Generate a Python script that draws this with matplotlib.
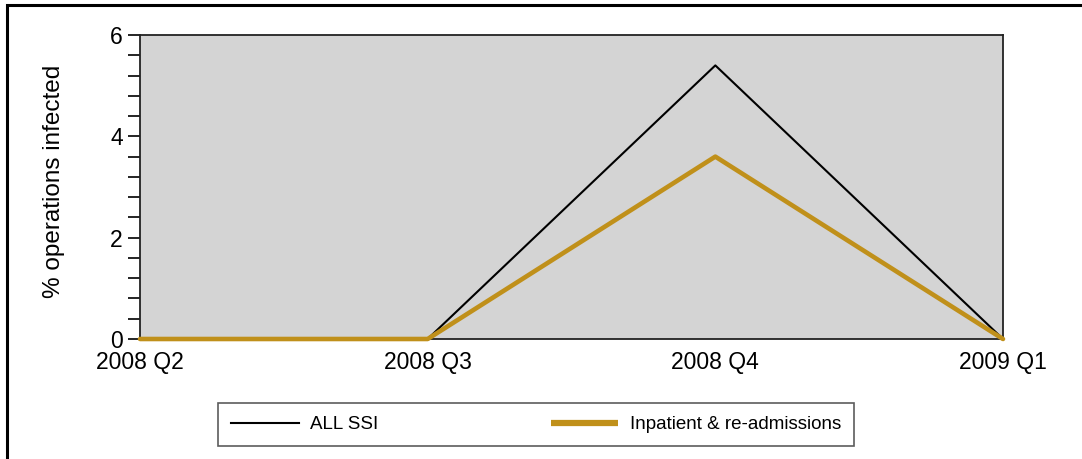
import matplotlib
matplotlib.use("Agg")
import matplotlib.pyplot as plt
from matplotlib.ticker import MultipleLocator
from matplotlib.patches import Rectangle

plt.rcParams['font.family'] = ['Liberation Sans', 'DejaVu Sans']

quarters = ["2008 Q2", "2008 Q3", "2008 Q4", "2009 Q1"]
all_ssi = [0.0, 0.0, 5.4, 0.0]
inpatient = [0.0, 0.0, 3.6, 0.0]
series_labels = ["ALL SSI", "Inpatient & re-admissions"]

W, H = 1082, 459
fig = plt.figure(figsize=(W / 100, H / 100), dpi=100)
ax = fig.add_axes([140 / W, 1 - 339 / H, (1003 - 140) / W, (339 - 35) / H])
ax.set_facecolor('#d4d4d4')

x = list(range(len(quarters)))
l1, = ax.plot(x, all_ssi, color='black', lw=1.5, label=series_labels[0], clip_on=False, zorder=3)
l2, = ax.plot(x, inpatient, color='#c0901a', lw=3.3, label=series_labels[1], clip_on=False, zorder=4,
              solid_capstyle='round')

ax.set_xlim(0, 3)
ax.set_ylim(0, 6)
ax.set_xticks(x)
ax.set_xticklabels(quarters)
ax.yaxis.set_major_locator(MultipleLocator(2))
ax.yaxis.set_minor_locator(MultipleLocator(0.4))
ax.tick_params(axis='x', length=0, pad=9, labelsize=16.5)
ax.tick_params(axis='y', which='major', length=8.5, width=1.2, pad=4, labelsize=16.5)
ax.tick_params(axis='y', which='minor', length=8.5, width=1.2)
for s in ax.spines.values():
    s.set_linewidth(1.3)
    s.set_color('#222222')

fig.text(54 / W, 1 - 181.5 / H, "% operations infected", rotation=90,
         ha='center', va='center', fontsize=17.5)

# outer frame
fig.patches.append(Rectangle((7 / W, -0.1), 1.2, 1.1 - 5 / H, transform=fig.transFigure,
                             fill=False, edgecolor='black', lw=2.2))

leg = fig.legend(handles=[l1, l2], loc='center',
                 bbox_to_anchor=((219 + 853) / 2 / W, 1 - 424.5 / H),
                 ncol=2, fontsize=13.5, frameon=True, fancybox=False,
                 edgecolor='#333333', handlelength=3.6, handletextpad=0.6,
                 columnspacing=9.2, borderpad=0.7, borderaxespad=0)
leg.get_frame().set_linewidth(1.2)
leg.get_lines()[1].set_linewidth(4.5)
leg.get_lines()[1].set_solid_capstyle('butt')

fig.savefig("out.png", dpi=100)
